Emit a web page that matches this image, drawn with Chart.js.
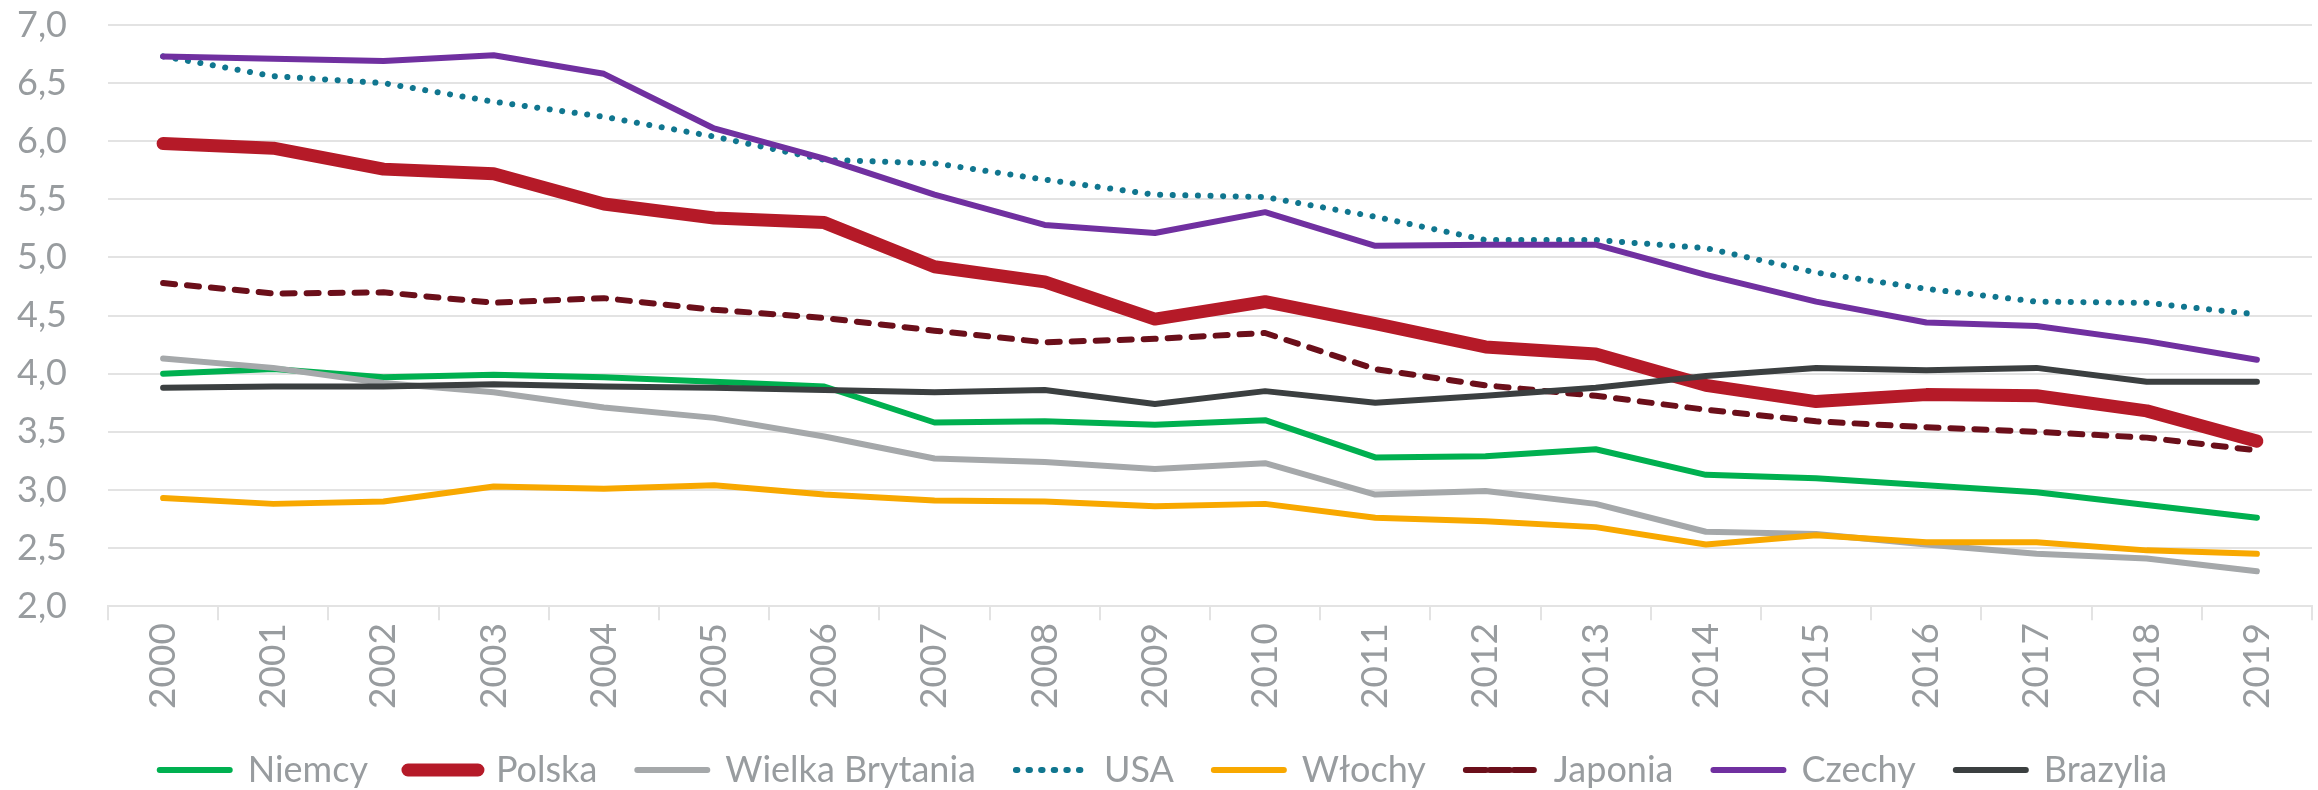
<!DOCTYPE html>
<html>
<head>
<meta charset="utf-8">
<script src="https://cdn.jsdelivr.net/npm/chart.js@4/dist/chart.umd.min.js"></script>
<style>
  html, body { margin: 0; padding: 0; background: #ffffff; }
  #wrap { width: 2318px; height: 790px; }
</style>
</head>
<body>
<div id="wrap"><canvas id="chart" width="2318" height="790"></canvas></div>
<script>
const years = ["2000", "2001", "2002", "2003", "2004", "2005", "2006", "2007", "2008", "2009",
               "2010", "2011", "2012", "2013", "2014", "2015", "2016", "2017", "2018", "2019"];

const niemcy   = [4.00, 4.04, 3.97, 3.99, 3.97, 3.93, 3.89, 3.58, 3.59, 3.56, 3.60, 3.28, 3.29, 3.35, 3.13, 3.10, 3.04, 2.98, 2.87, 2.76];
const polska   = [5.98, 5.94, 5.76, 5.72, 5.46, 5.34, 5.30, 4.92, 4.79, 4.47, 4.62, 4.43, 4.23, 4.17, 3.90, 3.76, 3.82, 3.81, 3.68, 3.42];
const wBrytania = [4.13, 4.05, 3.92, 3.84, 3.71, 3.62, 3.46, 3.27, 3.24, 3.18, 3.23, 2.96, 2.99, 2.88, 2.64, 2.62, 2.53, 2.45, 2.41, 2.30];
const usa      = [6.73, 6.56, 6.50, 6.34, 6.21, 6.04, 5.84, 5.81, 5.67, 5.54, 5.52, 5.35, 5.15, 5.15, 5.08, 4.87, 4.73, 4.62, 4.61, 4.51];
const wlochy   = [2.93, 2.88, 2.90, 3.03, 3.01, 3.04, 2.96, 2.91, 2.90, 2.86, 2.88, 2.76, 2.73, 2.68, 2.53, 2.61, 2.55, 2.55, 2.48, 2.45];
const japonia  = [4.78, 4.69, 4.70, 4.61, 4.65, 4.55, 4.48, 4.37, 4.27, 4.30, 4.35, 4.04, 3.90, 3.81, 3.69, 3.59, 3.54, 3.50, 3.45, 3.34];
const czechy   = [6.73, 6.71, 6.69, 6.74, 6.58, 6.11, 5.85, 5.54, 5.28, 5.21, 5.39, 5.10, 5.11, 5.11, 4.85, 4.62, 4.44, 4.41, 4.28, 4.12];
const brazylia = [3.88, 3.89, 3.89, 3.91, 3.89, 3.88, 3.86, 3.84, 3.86, 3.74, 3.85, 3.75, 3.81, 3.88, 3.98, 4.05, 4.03, 4.05, 3.93, 3.93];

const textColor = '#989c9f';
const gridColor = '#e3e3e3';

function series(label, data, color, width, dash, cap) {
    return {
        label: label,
        data: data,
        borderColor: color,
        backgroundColor: color,
        borderWidth: width,
        borderDash: dash || [],
        borderCapStyle: cap || 'round',
        borderJoinStyle: 'round',
        pointRadius: 0,
        pointHoverRadius: 0,
        tension: 0,
        fill: false
    };
}

const datasets = [
    series('Niemcy', niemcy, '#00b050', 6),
    series('Polska', polska, '#b51a28', 13),
    series('Wielka Brytania', wBrytania, '#a5a8aa', 6),
    series('USA', usa, '#10768f', 6, [0.1, 12.5], 'round'),
    series('Włochy', wlochy, '#f8a800', 6),
    series('Japonia', japonia, '#6b0f1a', 6, [12, 12], 'round'),
    series('Czechy', czechy, '#7030a0', 6),
    series('Brazylia', brazylia, '#3b3f40', 6)
];
// later series on top, like the original
datasets.forEach(function (d, i) { d.order = datasets.length - i; });

Chart.defaults.font.family = 'Lato, "Open Sans", sans-serif';
Chart.defaults.color = textColor;

new Chart(document.getElementById('chart').getContext('2d'), {
    type: 'line',
    data: { labels: years, datasets: datasets },
    options: {
        responsive: false,
        animation: false,
        devicePixelRatio: 1,
        layout: { padding: { left: 15, right: 6, top: 25, bottom: -8 } },
        plugins: {
            tooltip: { enabled: false },
            legend: {
                position: 'bottom',
                labels: {
                    boxWidth: 70,
                    boxHeight: 0,
                    padding: 40,
                    color: textColor,
                    font: { size: 36 },
                    sort: function (a, b) { return a.datasetIndex - b.datasetIndex; }
                }
            }
        },
        scales: {
            x: {
                offset: true,
                grid: {
                    offset: true,
                    drawOnChartArea: false,
                    drawTicks: true,
                    tickLength: 14,
                    color: gridColor,
                    lineWidth: 2
                },
                border: { display: true, color: gridColor, width: 2 },
                ticks: {
                    minRotation: 90,
                    maxRotation: 90,
                    autoSkip: false,
                    padding: 3,
                    color: textColor,
                    font: { size: 37 }
                },
                afterFit: function (s) { s.paddingLeft = 0; s.paddingRight = 0; }
            },
            y: {
                min: 2,
                max: 7,
                grid: { color: gridColor, lineWidth: 2, drawTicks: false },
                border: { display: false },
                ticks: {
                    stepSize: 0.5,
                    padding: 41,
                    color: textColor,
                    font: { size: 36 },
                    callback: function (v) { return v.toFixed(1).replace('.', ','); }
                },
                afterFit: function (s) { s.width = 93; s.paddingTop = 0; s.paddingBottom = 0; }
            }
        }
    }
});
</script>
</body>
</html>
